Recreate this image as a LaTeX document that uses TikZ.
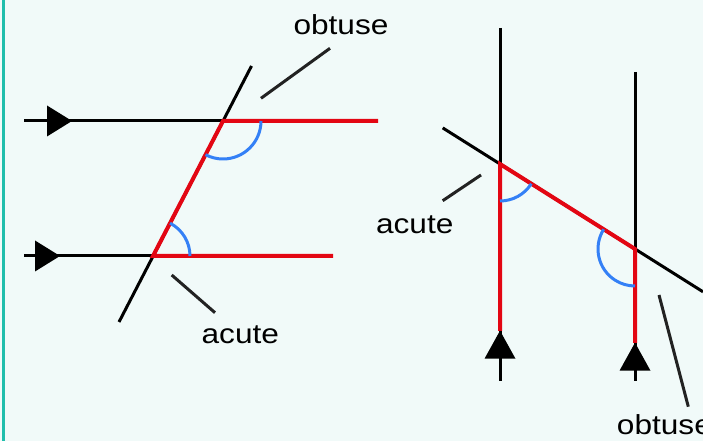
\documentclass[tikz,border=0pt]{standalone}
\usepackage{fontspec}
\setmainfont{Liberation Sans}
\usepackage{xcolor}
\usepackage{tikz}
\definecolor{mybg}{RGB}{241,250,249}
\definecolor{myteal}{RGB}{32,190,172}
\definecolor{myred}{RGB}{227,6,19}
\definecolor{myblue}{RGB}{52,128,246}
\definecolor{mydark}{RGB}{34,34,34}
\tikzstyle{blackline} = [black, line width=3pt]
\tikzstyle{redline} = [myred, line width=4pt, line join=miter]
\tikzstyle{anglearc} = [myblue, line width=3pt]
\tikzstyle{pointer} = [mydark, line width=3pt]
\tikzstyle{lbl} = [font=\fontsize{27.5}{33}\selectfont, inner sep=0pt, anchor=base, xscale=1.15]

\begin{document}
\begin{tikzpicture}[x=1pt, y=1pt]
    \fill[mybg] (0,0) rectangle (703,441);
    \fill[myteal] (2,0) rectangle (5,441);
    \useasboundingbox (0,0) rectangle (703,441);

    % left: two parallel lines cut by a transversal
    \coordinate (lt) at (223,320);
    \coordinate (lb) at (153,185);
    \draw[blackline] (24,320) -- (lt);
    \draw[blackline] (24,185) -- (lb);
    \draw[blackline] (119,119) -- (251.5,375);
    \draw[redline] (378,320) -- (lt) -- (lb) -- (333,185);
    \draw[anglearc] ([shift={(0:38)}]lt) arc[start angle=0, end angle=-117.4, radius=38];
    \draw[anglearc] ([shift={(0:37)}]lb) arc[start angle=0, end angle=62.6, radius=37];
    \foreach \x/\y in {47/320, 35/185}
        \fill (\x,\y+15.5) -- (\x+25,\y) -- (\x,\y-15.5) -- cycle;

    % right: two parallel lines cut by a transversal
    \coordinate (ra) at (500,277);
    \coordinate (rb) at (635,192);
    \draw[blackline] (500,413) -- (500,60);
    \draw[blackline] (635,369) -- (635,60);
    \draw[blackline] (442.7,313.1) -- (703,149.2);
    \draw[redline] (500,110) -- (ra) -- (rb) -- (635,98);
    \draw[anglearc] ([shift={(-90:37)}]ra) arc[start angle=-90, end angle=-32.2, radius=37];
    \draw[anglearc] ([shift={(147.8:37)}]rb) arc[start angle=147.8, end angle=270, radius=37];
    \foreach \x/\y in {500/110.3, 635/98.3}
        \fill (\x,\y) -- (\x+15.5,\y-28) -- (\x-15.5,\y-28) -- cycle;

    % labels
    \node[lbl] (obtA) at (341,406.7) {obtuse};
    \node[lbl] (acuA) at (240.3,97.7) {acute};
    \node[lbl] (acuB) at (414.7,207) {acute};
    \node[lbl, anchor=base west] (obtB) at (616.7,6) {obtuse};
    \coordinate (pA) at (261,342.7);
    \coordinate (pB) at (171.7,166);
    \coordinate (pC) at (481,266);
    \coordinate (pD) at (659,146);
    \draw[pointer] (pA) -- (330,392.7);
    \draw[pointer] (pB) -- (215,128.3);
    \draw[pointer] (pC) -- (442.7,240.3);
    \draw[pointer] (pD) -- (688.3,34.3);
\end{tikzpicture}
\end{document}
